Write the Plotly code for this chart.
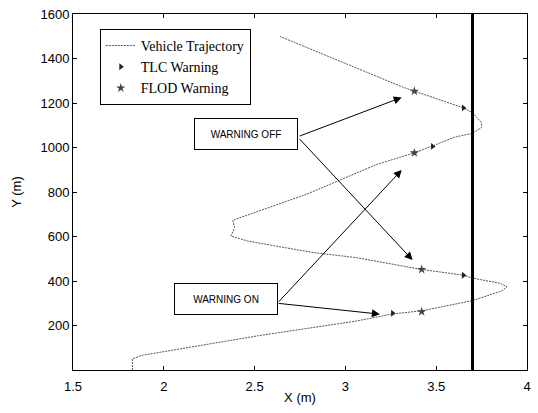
import plotly.graph_objects as go

# Vehicle trajectory (X in m, Y in m)
traj_x = [1.827, 1.827, 1.88, 2.52, 3.06, 3.26, 3.42, 3.70, 3.86, 3.89, 3.85, 3.70, 3.65,
          3.42, 3.06, 2.83, 2.61, 2.46, 2.37, 2.39, 2.38, 2.79, 3.17, 3.38, 3.48, 3.60,
          3.70, 3.75, 3.75, 3.70, 3.65, 3.38, 3.32, 2.64]
traj_y = [0, 50, 66, 154, 220, 252, 266, 312, 355, 374, 390, 413, 426,
          452, 505, 527, 558, 580, 602, 640, 673, 791, 923, 976, 1007, 1046,
          1064, 1090, 1112, 1156, 1178, 1253, 1270, 1499]

# TLC warnings
tlc_x = [3.26, 3.65, 3.48, 3.65]
tlc_y = [255, 426, 1005, 1178]

# FLOD warnings
flod_x = [3.42, 3.42, 3.38, 3.38]
flod_y = [262, 452, 976, 1253]

# Lane boundary
lane_x = 3.70

# Annotation boxes: text, centre x, centre y
box_text = ["WARNING OFF", "WARNING ON"]
box_x = [2.455, 2.343]
box_y = [1062, 317]

# Arrows: tail (x, y) -> tip (x, y)
arrow_tail_x = [2.74, 2.74, 2.625, 2.625]
arrow_tail_y = [1049, 1045, 300, 300]
arrow_tip_x = [3.31, 3.37, 3.31, 3.19]
arrow_tip_y = [1225, 494, 899, 251]

x_ticks = [1.5, 2, 2.5, 3, 3.5, 4]
y_ticks = [200, 400, 600, 800, 1000, 1200, 1400, 1600]

fig = go.Figure()
fig.add_trace(go.Scatter(x=traj_x, y=traj_y, mode="lines", name="Vehicle Trajectory",
                         line=dict(color="#555555", width=1, dash="2px,1px")))
fig.add_trace(go.Scatter(x=tlc_x, y=tlc_y, mode="markers", name="TLC Warning",
                         marker=dict(symbol="triangle-right", size=6, color="#222222")))
fig.add_trace(go.Scatter(x=flod_x, y=flod_y, mode="markers", name="FLOD Warning",
                         marker=dict(symbol="star", size=7, color="#444444")))

fig.add_shape(type="line", xref="x", yref="paper", x0=lane_x, x1=lane_x, y0=0, y1=1,
              line=dict(color="black", width=3))

for tx, ty, hx, hy in zip(arrow_tail_x, arrow_tail_y, arrow_tip_x, arrow_tip_y):
    fig.add_annotation(x=hx, y=hy, ax=tx, ay=ty, xref="x", yref="y", axref="x", ayref="y",
                       text="", showarrow=True, arrowhead=2, arrowsize=1.6, arrowwidth=1,
                       arrowcolor="black", standoff=0, startstandoff=0)

for t, bx, by in zip(box_text, box_x, box_y):
    fig.add_annotation(x=bx, y=by, xref="x", yref="y", text=t, showarrow=False,
                       font=dict(family="Liberation Sans, Arial", size=10, color="black"),
                       width=100, height=28, bordercolor="black", borderwidth=1,
                       bgcolor="white", borderpad=1)

axis_common = dict(showline=True, linecolor="black", linewidth=1, mirror="ticks",
                   ticks="inside", ticklen=4, tickcolor="black", showgrid=False,
                   zeroline=False, tickfont=dict(family="Liberation Sans, Arial", size=13, color="black"))

fig.update_xaxes(range=[1.5, 4], tickvals=x_ticks, ticktext=[f"{v:g}" for v in x_ticks],
                 ticklabelstandoff=4,
                 title=dict(text="X (m)", font=dict(family="Liberation Sans, Arial", size=13, color="black"), standoff=0),
                 **axis_common)
fig.update_yaxes(range=[0, 1600], tickvals=y_ticks, ticktext=[str(v) for v in y_ticks],
                 title=dict(text="Y (m)", font=dict(family="Liberation Sans, Arial", size=13, color="black"), standoff=15),
                 **axis_common)

fig.update_layout(
    width=538, height=413,
    margin=dict(l=73, r=7, t=7, b=43),
    paper_bgcolor="white", plot_bgcolor="white",
    showlegend=True,
    legend=dict(x=0.059, y=0.958, xanchor="left", yanchor="top",
                bordercolor="black", borderwidth=1, bgcolor="white",
                font=dict(family="Liberation Serif, Times New Roman", size=14, color="black"),
                tracegroupgap=0, itemwidth=30),
)

fig.write_html("out.html", config={"displayModeBar": False},
               post_script="document.body.style.margin='0';")
